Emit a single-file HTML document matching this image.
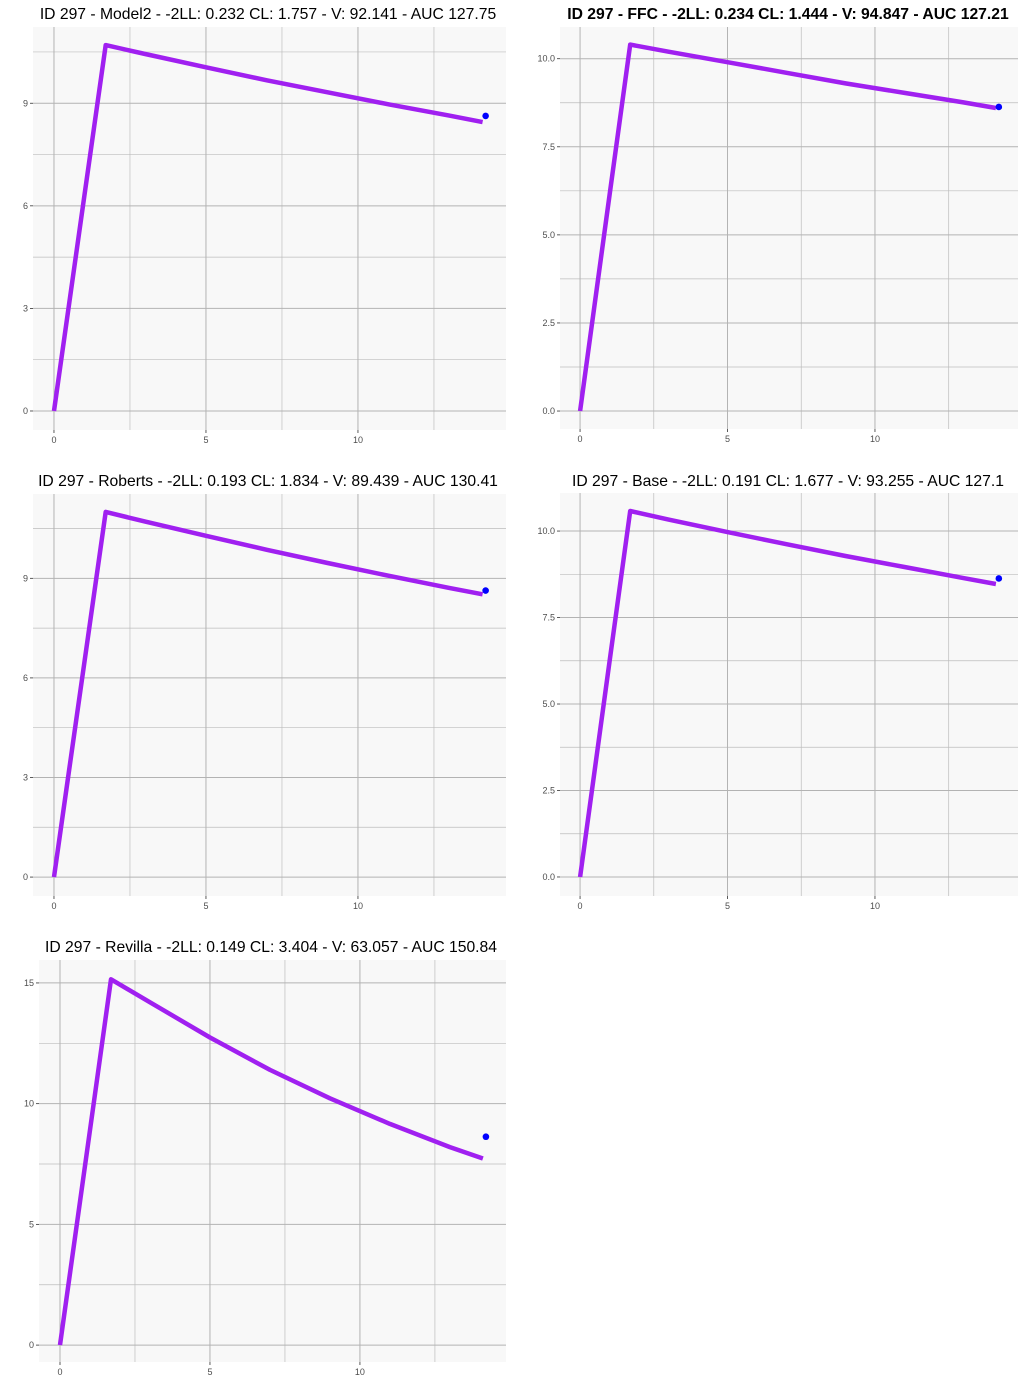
<!DOCTYPE html>
<html><head><meta charset="utf-8">
<style>
body{margin:0;background:#fff;}
svg{display:block;font-family:"Liberation Sans",sans-serif;}
</style></head>
<body>
<svg id="chart" width="1024" height="1400" viewBox="0 0 1024 1400" xmlns="http://www.w3.org/2000/svg"></svg>
<script>
// Shared time grid (hours)
const times = [0, 0.5, 1, 1.7, 3, 5, 7, 9, 11, 13, 14.1];
// Predicted concentrations per model
const model2Conc  = [0, 3.15, 6.3, 10.7, 10.44, 10.05, 9.67, 9.32, 8.97, 8.64, 8.45];
const ffcConc     = [0, 3.06, 6.12, 10.4, 10.2, 9.9, 9.6, 9.3, 9.03, 8.76, 8.6];
const robertsConc = [0, 3.24, 6.47, 11.0, 10.71, 10.28, 9.86, 9.46, 9.08, 8.71, 8.52];
const baseConc    = [0, 3.11, 6.22, 10.58, 10.33, 9.97, 9.62, 9.28, 8.96, 8.64, 8.47];
const revillaConc = [0, 4.46, 8.91, 15.15, 14.2, 12.74, 11.4, 10.22, 9.16, 8.2, 7.73];
// Observed sample
const obsTime = [14.2];
const obsConc = [8.63];
// Tick labels
const xTicks = [0, 5, 10];
const yTicksA = [0, 3, 6, 9];
const yTicksB = [0, 2.5, 5, 7.5, 10];
const yTicksC = [0, 5, 10, 15];

const panels = [
  {name:'model2', title:'ID 297 - Model2 - -2LL: 0.232 CL: 1.757 - V: 92.141 - AUC 127.75', bold:false, conc:model2Conc,
   box:[33,27,506,430], xd:[-0.69,14.87], yd:[-0.556,11.23], yt:yTicksA, dec:0, tx:268, ty:19},
  {name:'ffc', title:'ID 297 - FFC - -2LL: 0.234 CL: 1.444 - V: 94.847 - AUC 127.21', bold:true, conc:ffcConc,
   box:[560,27,1018,429], xd:[-0.68,14.85], yd:[-0.51,10.9], yt:yTicksB, dec:1, tx:788, ty:19},
  {name:'roberts', title:'ID 297 - Roberts - -2LL: 0.193 CL: 1.834 - V: 89.439 - AUC 130.41', bold:false, conc:robertsConc,
   box:[33,494,506,896], xd:[-0.69,14.87], yd:[-0.57,11.54], yt:yTicksA, dec:0, tx:268, ty:486},
  {name:'base', title:'ID 297 - Base - -2LL: 0.191 CL: 1.677 - V: 93.255 - AUC 127.1', bold:false, conc:baseConc,
   box:[560,493,1018,896], xd:[-0.68,14.85], yd:[-0.55,11.1], yt:yTicksB, dec:1, tx:788, ty:486},
  {name:'revilla', title:'ID 297 - Revilla - -2LL: 0.149 CL: 3.404 - V: 63.057 - AUC 150.84', bold:false, conc:revillaConc,
   box:[39,960,506,1362], xd:[-0.7,14.87], yd:[-0.70,15.95], yt:yTicksC, dec:0, tx:271, ty:952}
];

const svg = document.getElementById('chart');
const NS = 'http://www.w3.org/2000/svg';
function mk(tag, attrs, parent){
  const e = document.createElementNS(NS, tag);
  for (const k in attrs) e.setAttribute(k, attrs[k]);
  parent.appendChild(e);
  return e;
}

panels.forEach(p => {
  const [L,T,R,B] = p.box;
  const sx = v => L + (v - p.xd[0]) / (p.xd[1] - p.xd[0]) * (R - L);
  const sy = v => B - (v - p.yd[0]) / (p.yd[1] - p.yd[0]) * (B - T);
  const g = mk('g', {}, svg);
  
  

  const title = mk('text', {x:p.tx, y:p.ty, 'text-anchor':'middle', 'font-size':'15.7', fill:'#000', 'font-weight':p.bold?'bold':'normal'}, g);
  title.textContent = p.title;
  
  

  const bg = mk('rect', {x:L, y:T, width:R-L, height:B-T, fill:'#f8f8f8'}, g);
  
  

  const step = p.yt[1] - p.yt[0];
  for (let i = 0; i < p.yt.length + 1; i++) {
    const v = p.yt[0] + step * (i + 0.5);
    if (v > p.yd[1]) break;
    const ln = mk('line', {x1:L, x2:R, y1:sy(v), y2:sy(v), stroke:'#bdbdbd', 'stroke-width':0.7}, g);
    
    
  }
  [2.5, 7.5, 12.5].forEach(v => {
    const ln = mk('line', {x1:sx(v), x2:sx(v), y1:T, y2:B, stroke:'#bdbdbd', 'stroke-width':0.7}, g);
    
    
  });
  p.yt.forEach(v => {
    const ln = mk('line', {x1:L, x2:R, y1:sy(v), y2:sy(v), stroke:'#b3b3b3', 'stroke-width':1}, g);
    
    
    mk('line', {x1:L-3, x2:L, y1:sy(v), y2:sy(v), stroke:'#333', 'stroke-width':0.8}, g);
    const t = mk('text', {x:L-5, y:sy(v)+3, 'text-anchor':'end', 'font-size':'9', fill:'#4d4d4d'}, g);
    t.textContent = v.toFixed(p.dec);
    
    
  });
  xTicks.forEach(v => {
    const ln = mk('line', {x1:sx(v), x2:sx(v), y1:T, y2:B, stroke:'#b3b3b3', 'stroke-width':1}, g);
    
    
    mk('line', {x1:sx(v), x2:sx(v), y1:B, y2:B+3, stroke:'#333', 'stroke-width':0.8}, g);
    const t = mk('text', {x:sx(v), y:B+13, 'text-anchor':'middle', 'font-size':'9', fill:'#4d4d4d'}, g);
    t.textContent = v;
    
    
  });
  const d = times.map((t,i) => (i?'L':'M') + sx(t).toFixed(1) + ',' + sy(p.conc[i]).toFixed(1)).join(' ');
  const path = mk('path', {d:d, fill:'none', stroke:'#a020f0', 'stroke-width':4.5, 'stroke-linejoin':'round'}, g);
  
  
  obsTime.forEach((t,i) => {
    const c = mk('circle', {cx:sx(t), cy:sy(obsConc[i]), r:3.3, fill:'#0000ff'}, g);
    
    
  });
});
</script>
</body></html>
